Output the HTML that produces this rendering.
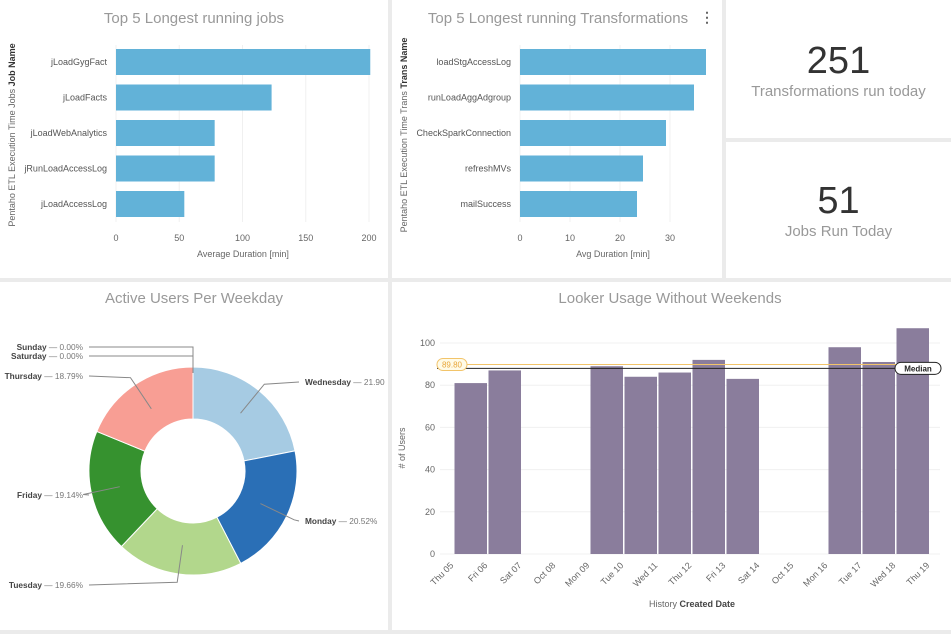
<!DOCTYPE html>
<html><head><meta charset="utf-8"><style>
body{margin:0;width:951px;height:634px;background:#ebebeb;font-family:"Liberation Sans",sans-serif;overflow:hidden;position:relative}
.panel{position:absolute;background:#fff}
svg{position:absolute;left:0;top:0}
.kpi{text-align:center;color:#444}
.kpi .num{font-size:38px;font-weight:300;color:#333}
.kpi .lab{font-size:15px;color:#999}
</style></head><body>
<div class="panel" style="left:0;top:0;width:388px;height:278px"></div>
<div class="panel" style="left:392px;top:0;width:330px;height:278px"></div>
<div class="panel kpi" style="left:726px;top:0;width:225px;height:138px">
 <div class="num" style="margin-top:40px">251</div>
 <div class="lab">Transformations run today</div></div>
<div class="panel kpi" style="left:726px;top:142px;width:225px;height:136px">
 <div class="num" style="margin-top:38px">51</div>
 <div class="lab">Jobs Run Today</div></div>
<div class="panel" style="left:0;top:282px;width:388px;height:348px"></div>
<div class="panel" style="left:392px;top:282px;width:559px;height:348px"></div>
<svg id="s" width="951" height="634" xmlns="http://www.w3.org/2000/svg" font-family="Liberation Sans, sans-serif"></svg>
<script>
const jobNames=["jLoadGygFact","jLoadFacts","jLoadWebAnalytics","jRunLoadAccessLog","jLoadAccessLog"];
const jobValues=[201,123,78,78,54];
const jobTicks=[0,50,100,150,200];
const transNames=["loadStgAccessLog","runLoadAggAdgroup","CheckSparkConnection","refreshMVs","mailSuccess"];
const transValues=[37.2,34.8,29.2,24.6,23.4];
const transTicks=[0,10,20,30];
const dayNames=["Wednesday","Monday","Tuesday","Friday","Thursday","Saturday","Sunday"];
const dayValues=[21.90,20.52,19.66,19.14,18.79,0,0];
const dayLabels=["21.90","20.52%","19.66%","19.14%","18.79%","0.00%","0.00%"];
const dates=["Thu 05","Fri 06","Sat 07","Oct 08","Mon 09","Tue 10","Wed 11","Thu 12","Fri 13","Sat 14","Oct 15","Mon 16","Tue 17","Wed 18","Thu 19"];
const users=[81,87,null,null,89,84,86,92,83,null,null,98,91,107,null];
const userTicks=[0,20,40,60,80,100];
const refValue=89.8, medianValue=88;

const S=document.getElementById('s');
function el(tag,attrs,text){const e=document.createElementNS('http://www.w3.org/2000/svg',tag);for(const k in attrs)e.setAttribute(k,attrs[k]);if(text!=null)e.textContent=text;S.appendChild(e);return e;}

function hbar(o){
  const x=v=>o.x0+(v-o.d0)*o.k;
  const t=el('text',{x:o.tx,y:23,'text-anchor':'middle','font-size':15,fill:'#999','font-weight':300},o.title);
  
  o.ticks.forEach((v,i)=>{
    const g=el('line',{x1:x(v),x2:x(v),y1:45,y2:222,stroke:'#f0f0f0'});
    
    const tl=el('text',{x:x(v),y:241,'text-anchor':'middle','font-size':9,fill:'#666'},String(v));
    
  });
  o.names.forEach((n,i)=>{
    const cy=62+i*35.5;
    const b=el('rect',{x:x(0),y:cy-13,width:x(o.values[i])-x(0),height:26,fill:'#62b2d8'});
    
    const l=el('text',{x:x(0)-9,y:cy+3,'text-anchor':'end','font-size':9,fill:'#555'},n);
    
  });
  const xt=el('text',{x:o.xtx,y:257,'text-anchor':'middle','font-size':9,fill:'#666'},o.xtitle);
  
  const yt=el('text',{transform:`translate(${o.ytx},135) rotate(-90)`,'text-anchor':'middle','font-size':9,fill:'#666'});
  
  yt.innerHTML=o.ytitle+' <tspan font-weight="bold" fill="#333">'+o.ybold+'</tspan>';
}
hbar({id:'jobs',x0:116,d0:0,k:1.265,names:jobNames,values:jobValues,ticks:jobTicks,title:'Top 5 Longest running jobs',tx:194,xtitle:'Average Duration [min]',xtx:243,ytitle:'Pentaho ETL Execution Time Jobs',ybold:'Job Name',ytx:15});
hbar({id:'trans',x0:520,d0:0,k:5,names:transNames,values:transValues,ticks:transTicks,title:'Top 5 Longest running Transformations',tx:558,xtitle:'Avg Duration [min]',xtx:613,ytitle:'Pentaho ETL Execution Time Trans',ybold:'Trans Name',ytx:407});
const dots=el('text',{x:707,y:22,'text-anchor':'middle','font-size':14,fill:'#666','font-weight':'bold'},'⋮');


// Donut
const cx=193,cy=471,R=104,r=52;
const colors=["#a6cbe3","#2a6fb6","#b2d78c","#36922f","#f89e94","#999","#999"];
const labelPos=[[305,385,'start'],[305,524,'start'],[83,588,'end'],[83,498,'end'],[83,379,'end'],[83,359,'end'],[83,350,'end']];
const dt=el('text',{x:194,y:303,'text-anchor':'middle','font-size':15,fill:'#999'},'Active Users Per Weekday');

const total=dayValues.reduce((a,b)=>a+b,0);
let a0=0;
const pt=(a,rad)=>[cx+rad*Math.sin(a),cy-rad*Math.cos(a)];
dayValues.forEach((v,i)=>{
  const a1=a0+v/total*2*Math.PI;
  if(v>0){
    const [x1,y1]=pt(a0,R),[x2,y2]=pt(a1,R),[x3,y3]=pt(a1,r),[x4,y4]=pt(a0,r);
    const lg=(a1-a0)>Math.PI?1:0;
    const p=el('path',{d:`M${x1},${y1}A${R},${R} 0 ${lg} 1 ${x2},${y2}L${x3},${y3}A${r},${r} 0 ${lg} 0 ${x4},${y4}Z`,fill:colors[i],stroke:'#fff','stroke-width':1});
    
  }
  const am=(a0+a1)/2;const [mx,my]=pt(am,R*0.72);
  const [lx,ly,anc]=labelPos[i];
  const ex=anc==='start'?lx-6:lx+6;
  let d;
  if(v>0){const [ox,oy]=pt(am,R*1.08);d=`M${mx},${my}L${ox},${oy}L${ex},${ly-3}`;}
  else{d=`M${cx},${cy-R+6}L${cx},${ly-3}L${ex},${ly-3}`;}
  const ln=el('path',{d,fill:'none',stroke:'#888','stroke-width':1});
  
  const t=el('text',{x:lx,y:ly,'text-anchor':anc,'font-size':8.3,fill:'#777'});
  t.innerHTML='<tspan font-weight="bold" fill="#444">'+dayNames[i]+'</tspan> — '+dayLabels[i];
  
  a0=a1;
});

// Looker column chart
const X0=454,step=34,Y0=554,ky=2.11;
const xs=i=>X0+i*step, ys=v=>Y0-v*ky;
const lt=el('text',{x:670,y:303,'text-anchor':'middle','font-size':15,fill:'#999'},'Looker Usage Without Weekends');

userTicks.forEach(v=>{
  const g=el('line',{x1:440,x2:940,y1:ys(v),y2:ys(v),stroke:'#f0f0f0'});
  
  const t=el('text',{x:435,y:ys(v)+3,'text-anchor':'end','font-size':9,fill:'#666'},String(v));
  
});
users.forEach((v,i)=>{
  if(v==null)return;
  const b=el('rect',{x:xs(i)+0.5,y:ys(v),width:step-1.5,height:ys(0)-ys(v),fill:'#8a7d9c'});
  
});
dates.forEach((d,i)=>{
  const t=el('text',{transform:`translate(${xs(i)},566) rotate(-45)`,'text-anchor':'end','font-size':9,fill:'#666'},d);
  
});
const rl=el('line',{x1:437,x2:940,y1:ys(refValue),y2:ys(refValue),stroke:'#f2c46a','stroke-width':1});

const ml=el('line',{x1:437,x2:940,y1:ys(medianValue),y2:ys(medianValue),stroke:'#222','stroke-width':1});

const rb=el('rect',{x:437,y:ys(refValue)-6,width:30,height:12,rx:6,fill:'#fffbe8',stroke:'#f2c46a'});

const rt=el('text',{x:452,y:ys(refValue)+3,'text-anchor':'middle','font-size':8,fill:'#e8a63a'},refValue.toFixed(2));

const mb=el('rect',{x:895,y:ys(medianValue)-6,width:46,height:12,rx:6,fill:'#fff',stroke:'#222'});

const mt=el('text',{x:918,y:ys(medianValue)+3,'text-anchor':'middle','font-size':8,'font-weight':'bold',fill:'#222'},'Median');

const xat=el('text',{x:692,y:607,'text-anchor':'middle','font-size':9,fill:'#666'});
xat.innerHTML='History <tspan font-weight="bold" fill="#444">Created Date</tspan>';

const yat=el('text',{transform:'translate(405,448) rotate(-90)','text-anchor':'middle','font-size':9,fill:'#666'},'# of Users');

</script>
</body></html>
